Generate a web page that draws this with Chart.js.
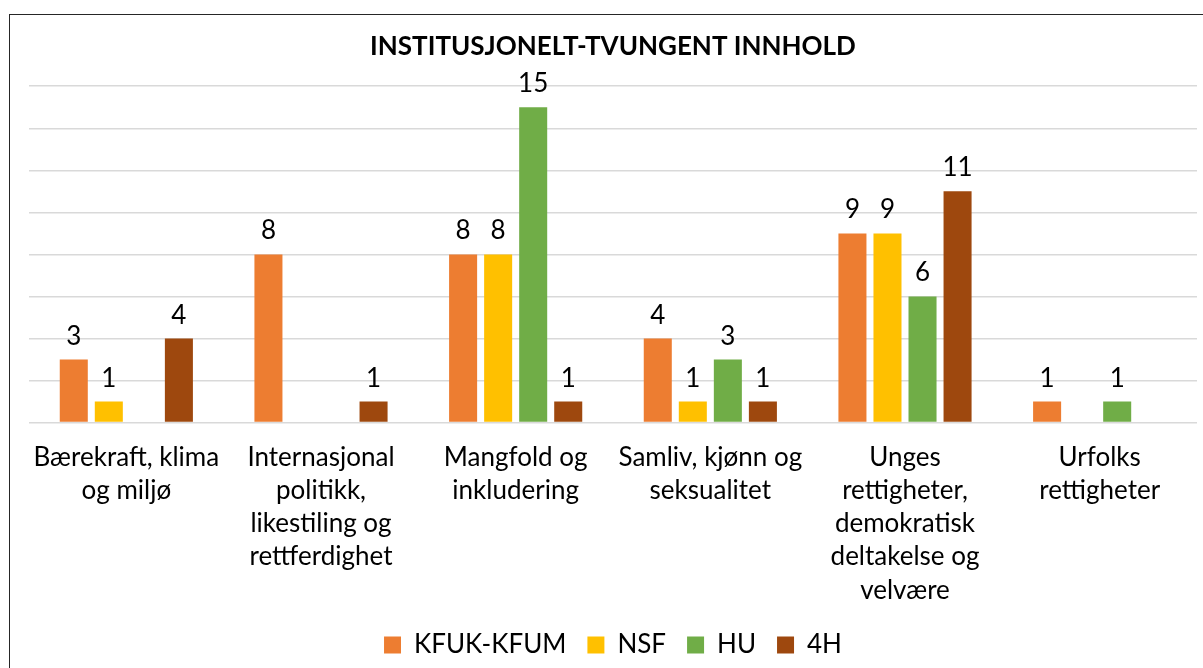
<!DOCTYPE html>
<html>
<head>
<meta charset="utf-8">
<script src="https://cdn.jsdelivr.net/npm/chart.js@4"></script>
<style>
  html, body { margin: 0; padding: 0; background: #fff; overflow: hidden; }
  #ramme { position: absolute; left: 9px; top: 14px; width: 1300px; height: 800px; border: 1.5px solid #262626; }
  #boks { position: absolute; left: 0; top: 0; width: 1203px; height: 668px; }
</style>
</head>
<body>
<div id="ramme"></div>
<div id="boks"><canvas id="grafInnhold"></canvas></div>
<script>
// Temaer (kategorier) med linjeskift slik som i originalen
const kategorier = [
    ['Bærekraft, klima', 'og miljø'],
    ['Internasjonal', 'politikk,', 'likestiling og', 'rettferdighet'],
    ['Mangfold og', 'inkludering'],
    ['Samliv, kjønn og', 'seksualitet'],
    ['Unges', 'rettigheter,', 'demokratisk', 'deltakelse og', 'velvære'],
    ['Urfolks', 'rettigheter']
];

// Verdier per organisasjon (null = ingen søyle)
const kfukKfum = [3, 8, 8, 4, 9, 1];
const nsf = [1, null, 8, 1, 9, null];
const hu = [null, null, 15, 3, 6, 1];
const fireH = [4, 1, 1, 1, 11, null];

// Verdiakse
const yMaks = 16;
const ySteg = 2;

Chart.defaults.font.family = 'Lato';
Chart.defaults.color = '#000';

// Skriver verdien over hver søyle
const verdiEtiketter = {
    id: 'verdiEtiketter',
    afterDatasetsDraw(chart) {
        const ctx = chart.ctx;
        ctx.save();
        ctx.font = '26px Lato';
        ctx.fillStyle = '#000';
        ctx.textAlign = 'center';
        ctx.textBaseline = 'alphabetic';
        chart.data.datasets.forEach((ds, i) => {
            chart.getDatasetMeta(i).data.forEach((bar, j) => {
                const v = ds.data[j];
                if (v === null || v === undefined) return;
                ctx.fillText(String(v), bar.x, bar.y - 15);
            });
        });
        ctx.restore();
    }
};

new Chart(document.getElementById('grafInnhold'), {
    type: 'bar',
    data: {
        labels: kategorier,
        datasets: [
            { label: 'KFUK-KFUM', data: kfukKfum, backgroundColor: '#ED7D31' },
            { label: 'NSF', data: nsf, backgroundColor: '#FFC000' },
            { label: 'HU', data: hu, backgroundColor: '#70AD47' },
            { label: '4H', data: fireH, backgroundColor: '#9E480E' }
        ]
    },
    options: {
        responsive: true,
        maintainAspectRatio: false,
        animation: false,
        categoryPercentage: 0.72,
        barPercentage: 0.8,
        layout: {
            padding: { left: 29, right: 6, top: 0, bottom: 0 }
        },
        plugins: {
            title: {
                display: true,
                text: 'INSTITUSJONELT-TVUNGENT INNHOLD',
                font: { size: 26, weight: 'bold' },
                color: '#000',
                padding: { top: 31, bottom: 24 }
            },
            legend: {
                position: 'bottom',
                labels: {
                    boxWidth: 17,
                    boxHeight: 17,
                    padding: 21,
                    font: { size: 26 }
                }
            },
            tooltip: { enabled: false }
        },
        scales: {
            x: {
                grid: { display: false, drawTicks: false },
                border: { display: false },
                ticks: {
                    maxRotation: 0,
                    autoSkip: false,
                    padding: 18,
                    font: { size: 26, lineHeight: 1.28 }
                },
                // etikettene får gå litt ned mot tegnforklaringen
                afterFit(scale) {
                    scale.height -= 14;
                }
            },
            y: {
                min: 0,
                max: yMaks,
                ticks: { display: false, stepSize: ySteg },
                grid: { color: '#d9d9d9', lineWidth: 1.5, drawTicks: false },
                border: { display: false }
            }
        }
    },
    plugins: [verdiEtiketter]
});
</script>
</body>
</html>
